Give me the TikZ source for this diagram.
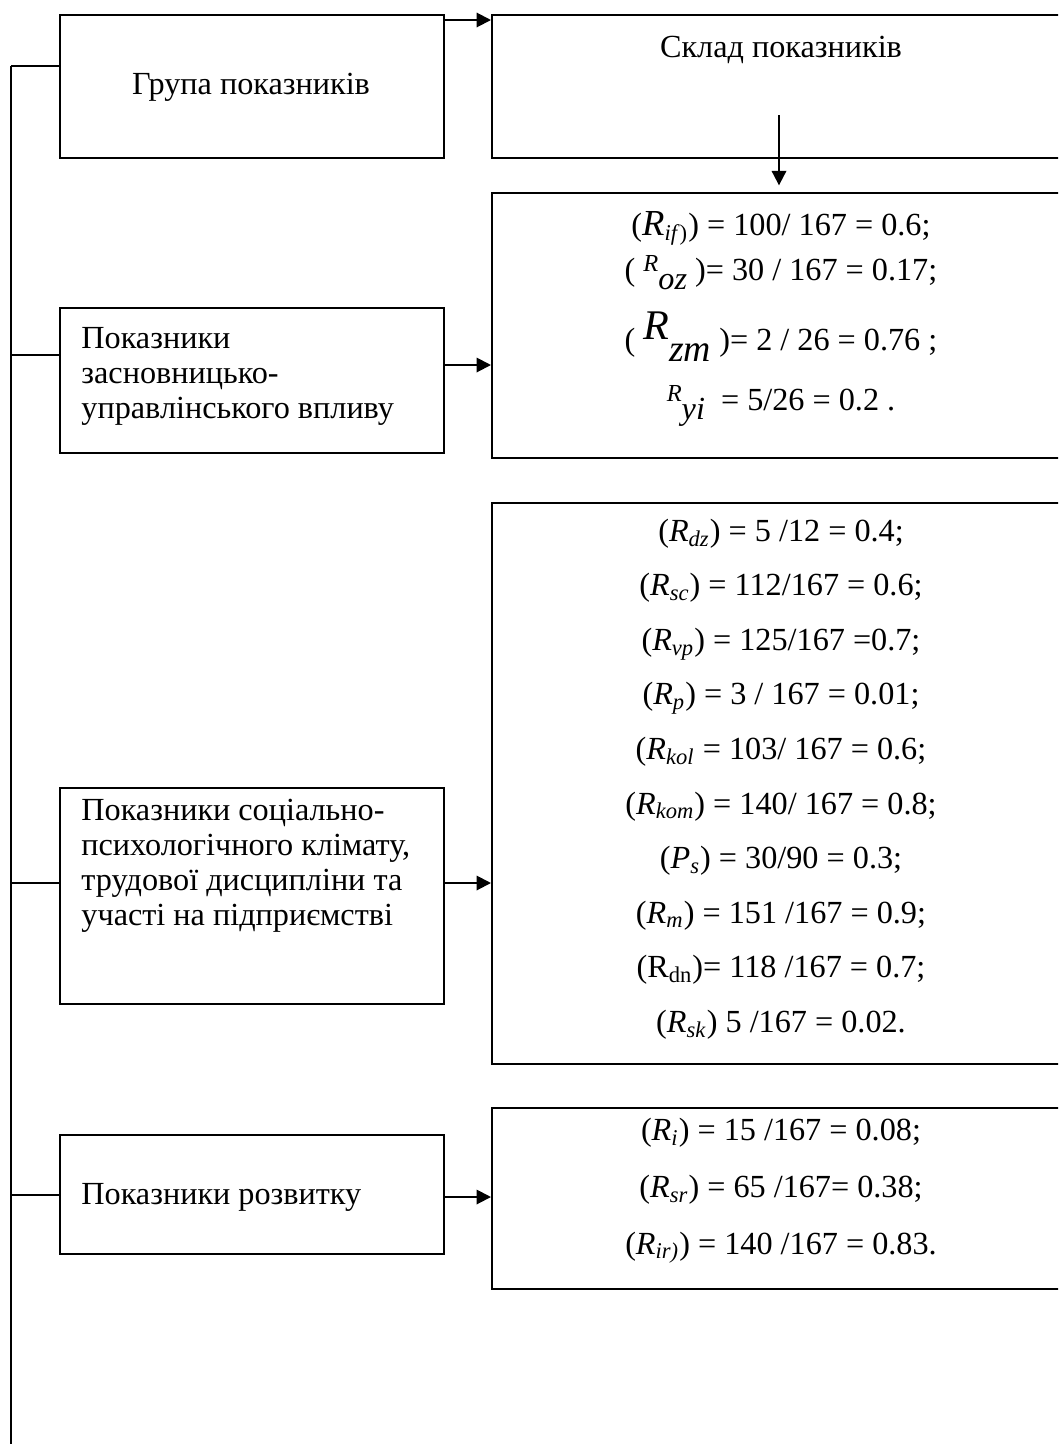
\documentclass[tikz,border=0pt]{standalone}
\usepackage{fontspec}
\setmainfont{Liberation Serif}
\newfontfamily\tnr{Liberation Serif}
\usetikzlibrary{arrows.meta}

\newcommand{\rs}[2]{\textit{#1}\textsubscript{\textit{#2}}}
\newcommand{\fs}[1]{\fontsize{#1}{#1}\tnr\selectfont}

\tikzset{
  blk/.style={draw, line width=0.9pt, anchor=north west, inner sep=0pt},
  lblk/.style={blk, minimum width=172.8pt},
  rblk/.style={blk, minimum width=261pt},
  txt/.style={inner sep=0pt, font=\tnr\fontsize{14.5}{15.75}\selectfont},
  conn/.style={line width=0.9pt},
  arr/.style={line width=0.9pt, -{Triangle[length=6.5pt,width=6.5pt]}}
}

\begin{document}
\begin{tikzpicture}[x=0.45pt,y=-0.45pt]
  \useasboundingbox (0,0) rectangle (1058,1444);
  \clip (0,0) rectangle (1058,1444);

  % left column
  \node[lblk, minimum height=64.35pt] (A) at (59,14) {};
  \node[txt] (atxt) at (251,87) {Група показників};
  \node[lblk, minimum height=65.25pt] (D) at (59,307) {};
  \node[txt, align=left, anchor=west] (dtxt) at (81,376)
    {Показники\\засновницько-\\управлінського впливу};
  \node[lblk, minimum height=97.2pt] (F) at (59,787) {};
  \node[txt, align=left, anchor=west] (ftxt) at (81,866)
    {Показники соціально-\\психологічного клімату,\\трудової дисципліни та\\участі на підприємстві};
  \node[lblk, minimum height=53.55pt] (H) at (59,1134) {};
  \node[txt, anchor=west] (htxt) at (81,1197) {Показники розвитку};

  % right column
  \node[rblk, minimum height=64.35pt] (B) at (491,14) {};
  \node[txt] (btxt) at (781,50) {Склад показників};
  \node[rblk, minimum height=119.25pt] (C) at (491,192) {};
  \node[txt, align=center, font=\tnr\fontsize{14.5}{20.25}\selectfont] (ctxt) at (781,319)
    {(\textit{\fs{16.5}R}\textsubscript{\textit{if})}) = 100/ 167 = 0.6;\\
     ( \raisebox{4pt}{\textit{\fs{11}R}}\raisebox{-4pt}{\textit{oz}} )= 30 / 167 = 0.17;\\[9pt]
     ( \raisebox{5pt}{\textit{\fs{19}R}}\raisebox{-5pt}{\textit{\fs{17}zm}} )= 2 / 26 = 0.76 ;\\[6.75pt]
     \raisebox{4pt}{\textit{\fs{11}R}}\raisebox{-4pt}{\textit{yi}} \ = 5/26 = 0.2 .};
  \node[rblk, minimum height=252.45pt] (E) at (491,502) {};
  \node[txt, align=center, font=\tnr\fontsize{14.5}{24.55}\selectfont] (etxt) at (781,779)
    {(\rs{R}{dz}) = 5 /12 = 0.4;\\
     (\rs{R}{sc}) = 112/167 = 0.6;\\
     (\rs{R}{vp}) = 125/167 =0.7;\\
     (\rs{R}{p}) = 3 / 167 = 0.01;\\
     (\rs{R}{kol} = 103/ 167 = 0.6;\\
     (\rs{R}{kom}) = 140/ 167 = 0.8;\\
     (\rs{P}{s}) = 30/90 = 0.3;\\
     (\rs{R}{m}) = 151 /167 = 0.9;\\
     (R\textsubscript{dn})= 118 /167 = 0.7;\\
     (\rs{R}{sk}) 5 /167 = 0.02.};
  \node[rblk, minimum height=81.45pt] (G) at (491,1107) {};
  \node[txt, align=center, font=\tnr\fontsize{14.5}{25.5}\selectfont] (gtxt) at (781,1191)
    {(\rs{R}{i}) = 15 /167 = 0.08;\\
     (\rs{R}{sr}) = 65 /167= 0.38;\\
     (\rs{R}{ir)}) = 140 /167 = 0.83.};

  % spine and connectors
  \coordinate (ja) at (11,66);
  \coordinate (jd) at (11,355);
  \coordinate (jf) at (11,883);
  \coordinate (jh) at (11,1195);
  \coordinate (jend) at (11,1450);
  \draw[conn] (ja) -- (jend);
  \draw[conn] (ja) -- (ja -| A.west);
  \draw[conn] (jd) -- (jd -| D.west);
  \draw[conn] (jf) -- (jf -| F.west);
  \draw[conn] (jh) -- (jh -| H.west);

  \coordinate (ab) at (443,20);
  \coordinate (dc) at (443,365);
  \coordinate (fe) at (443,883);
  \coordinate (hg) at (443,1197);
  \coordinate (bc) at (779,115);
  \draw[arr] (ab) -- (ab -| B.west);
  \draw[arr] (dc) -- (dc -| C.west);
  \draw[arr] (fe) -- (fe -| E.west);
  \draw[arr] (hg) -- (hg -| G.west);
  \draw[arr, shorten >=3pt] (bc) -- (bc |- C.north);
\end{tikzpicture}
\end{document}
